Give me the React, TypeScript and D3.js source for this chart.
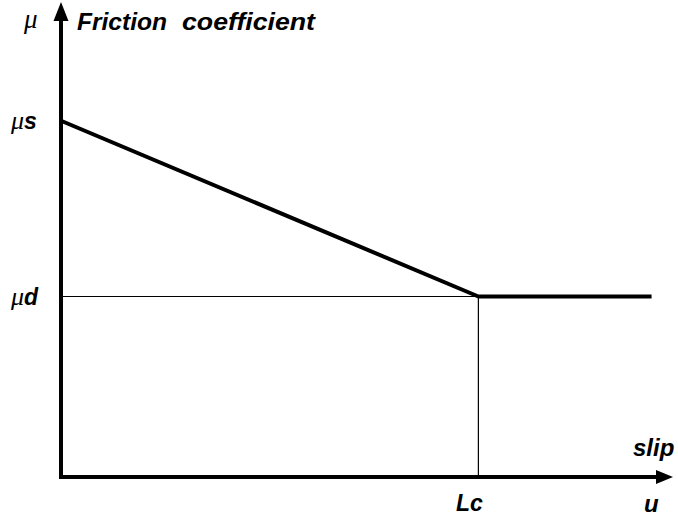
import React from "react";
import * as d3 from "d3";

// friction law: linear slip weakening, then constant
const slip = [0, 6.82, 9.65];
const friction = [0.75, 0.38, 0.38];
const yTicks = [
  { mu: "μ", sub: "s", value: 0.75 },
  { mu: "μ", sub: "d", value: 0.38 },
];
const lcValue = 6.82;

const W = 678;
const H = 519;

export default function App() {
  const x = d3.scaleLinear().domain([0, 10]).range([61, 673]);
  const y = d3.scaleLinear().domain([0, 1]).range([477, 2]);

  const line = d3
    .line<number>()
    .x((d, i) => x(slip[i]))
    .y((d) => y(d));

  const bold = {
    fontFamily: "'Liberation Sans', Arial, sans-serif",
    fontWeight: "bold" as const,
    fontStyle: "italic" as const,
    fill: "#000",
  };
  const greek = {
    fontFamily: "'Liberation Serif', 'Times New Roman', serif",
    fontStyle: "italic" as const,
    fill: "#000",
  };

  const x0 = x(0);
  const y0 = y(0);
  const xEnd = x(10);
  const yTop = y(1);
  const xLc = x(lcValue);
  const yMd = y(friction[1]);

  return (
    <svg
      width={W}
      height={H}
      style={{ position: "absolute", left: 0, top: 0, background: "#fff" }}
    >
      <rect width={W} height={H} fill="#fff" />

      {/* guide lines */}
      <line x1={x0} x2={xLc} y1={yMd} y2={yMd} stroke="#000" strokeWidth={1.2} />
      <line x1={xLc} x2={xLc} y1={yMd} y2={y0} stroke="#000" strokeWidth={1.2} />

      {/* axes */}
      <line x1={x0} x2={x0} y1={y0 + 2} y2={yTop + 14} stroke="#000" strokeWidth={4} />
      <path
        d={`M${x0},${yTop} L${x0 - 7.5},${yTop + 19} L${x0 + 7.5},${yTop + 19} Z`}
        fill="#000"
      />
      <line x1={x0 - 2} x2={xEnd - 12} y1={y0} y2={y0} stroke="#000" strokeWidth={4} />
      <path
        d={`M${xEnd},${y0} L${xEnd - 17},${y0 - 7} L${xEnd - 17},${y0 + 7} Z`}
        fill="#000"
      />

      {/* friction curve */}
      <path
        d={line(friction) || ""}
        fill="none"
        stroke="#000"
        strokeWidth={4}
        strokeLinejoin="round"
      />

      {/* labels */}
      <text x={24} y={28} fontSize={27} style={greek}>
        μ
      </text>
      <text x={77} y={30} fontSize={23} textLength={90} lengthAdjust="spacingAndGlyphs" style={bold}>
        Friction
      </text>
      <text x={182} y={30} fontSize={23} textLength={133} lengthAdjust="spacingAndGlyphs" style={bold}>
        coefficient
      </text>

      {yTicks.map((t, i) => (
        <text key={i} x={11} y={y(t.value) + 8} fontSize={23}>
          <tspan style={greek} fontSize={26}>{t.mu}</tspan>
          <tspan style={bold}>{t.sub}</tspan>
        </text>
      ))}

      <text x={633} y={456} fontSize={24} style={bold}>
        slip
      </text>
      <text x={456} y={511} fontSize={23} style={bold}>
        Lc
      </text>
      <text x={644} y={512} fontSize={24} style={bold}>
        u
      </text>
    </svg>
  );
}
